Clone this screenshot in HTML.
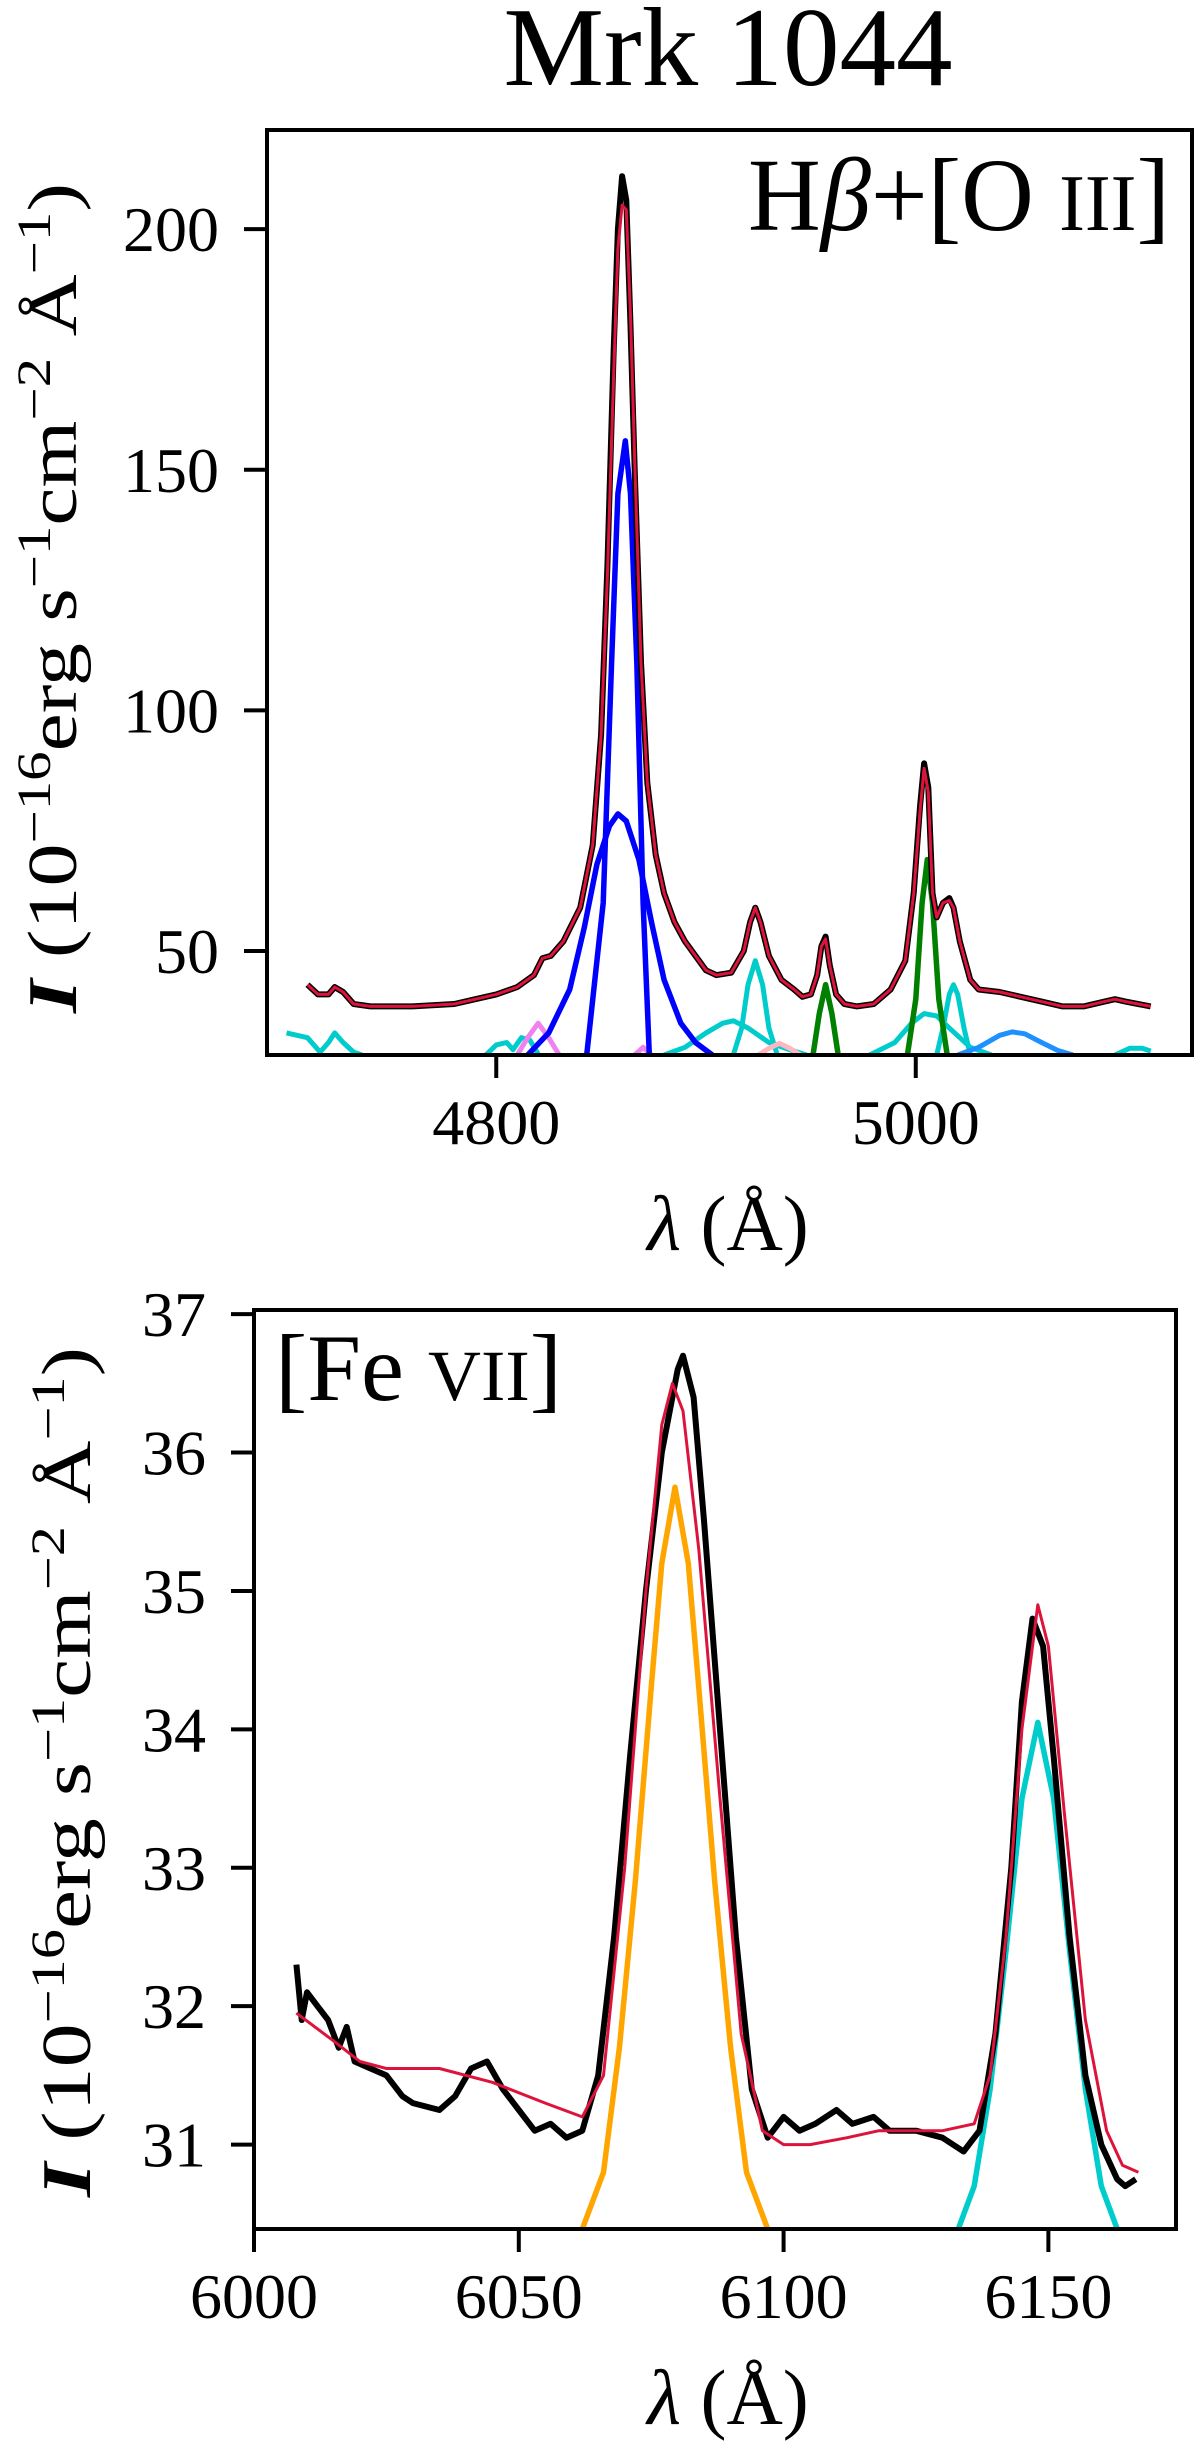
<!DOCTYPE html>
<html><head><meta charset="utf-8"><style>
html,body{margin:0;padding:0;background:#fff}
svg{display:block;font-family:"Liberation Serif",serif}
</style></head><body>
<svg id="fig" width="1200" height="2454" viewBox="0 0 1200 2454">
<text x="728" y="85" font-size="112" text-anchor="middle" textLength="449" lengthAdjust="spacingAndGlyphs">Mrk 1044</text>
<g id="top"></g>
<g id="bot"></g>
</svg>
<script>
// ---------- Top panel data ----------
const topXTicks=[4800,5000];
const topYTicks=[50,100,150,200];
const topObsX=[4710,4715,4720,4723,4727,4732,4740,4760,4780,4790,4800,4810,4818,4822,4826,4832,4840,4846,4850,4853,4856,4858,4860,4862,4864,4866,4869,4872,4876,4880,4885,4890,4895,4900,4905,4912,4918,4921,4923.5,4926,4930,4936,4942,4946,4950,4953,4955,4957,4959,4962,4966,4972,4980,4988,4995,4999,5002,5004,5006,5008,5010,5013,5016,5018,5021,5026,5030,5040,5050,5060,5070,5080,5090,5095,5100,5106,5112];
const topObsY=[43,41,41,42.5,41.5,39,38.5,38.5,39,40,41,42.5,45,48.5,49,52,59,72,95,130,175,200,211,206,180,150,110,85,70,62,56,52,49,46,45,45.5,50,56,59,56,49,44,42,40.5,41,45,51,53,47,41,39,38.5,39,42,48,62,80,89,84,62,57,60,61,59,52,44,42,41.5,40.5,39.5,38.5,38.5,39.5,40,39.5,39,38.5];
const topModY=[43,41,41,42.5,41.5,39,38.5,38.5,39,40,41,42.5,45,48.5,49,52,59,72,95,128,170,196,205,204,182,152,110,85,70,62,56,52,49,46,45,45.5,50,56,59,56,49,44,42,40.5,41,45,51,52.5,47,41,39,38.5,39,42,48,62,79,88,83,62,57,60,60.5,59,52,44,42,41.5,40.5,39.5,38.5,38.5,39.5,40,39.5,39,38.5];
const bnX=[4843,4851,4855,4858,4861.5,4864,4867,4870,4873];
const bnY=[28,60,110,145,156,145,110,60,28];
const bbX=[4815,4825,4835,4842,4848,4854,4858,4862,4868,4874,4880,4888,4895,4903];
const bbY=[28.4,33,42,55,68,76,78.5,77,69,56,44,35,31,28.4];
const cyanAX=[4700,4710,4716,4720,4723,4727,4732,4736];
const cyanAY=[33,32,29,31,33,31,29,28.4];
const cyanBX=[4795,4800,4805,4808,4812,4816,4820];
const cyanBY=[28.4,30.5,31,29.5,32,31.5,28.6];
const cyanCX=[4880,4890,4900,4908,4913,4920,4930,4940,4948];
const cyanCY=[28.4,30,33,35,35.5,34,31,29.5,28.4];
const cyanDX=[4913,4917,4920,4923.5,4927,4930,4934];
const cyanDY=[28.4,34,43,48,43,34,28.4];
const cyanEX=[4978,4990,4998,5004,5010,5016,5026,5036];
const cyanEY=[28.4,31,35,37,36.5,34,30,28.4];
const cyanFX=[5010,5013,5016,5018,5020,5023,5026];
const cyanFY=[28.4,34,41,43,41,34,28.4];
const cyanGX=[5095,5102,5108,5112];
const cyanGY=[28.4,29.8,29.8,29.2];
const greenAX=[4951,4954,4957,4960,4963];
const greenAY=[28.4,37,43,37,28.4];
const greenBX=[4996,5000,5003,5005.5,5008,5011,5015];
const greenBY=[28.4,40,60,69,60,40,28.4];
const violetAX=[4810,4815,4820,4825,4830];
const violetAY=[28.4,32,35,32,28.4];
const violetBX=[4866,4870,4874];
const violetBY=[28.4,30,28.4];
const pinkX=[4925,4930,4935,4940,4945];
const pinkY=[28.4,29.8,30.8,29.8,28.4];
const dblueX=[5020,5030,5040,5046,5052,5060,5068,5075];
const dblueY=[28.4,30,32.5,33.2,32.8,31,29.3,28.4];
// ---------- Bottom panel data ----------
const botXTicks=[6000,6050,6100,6150];
const botYTicks=[31,32,33,34,35,36,37];
const botObsX=[6008,6009,6010,6012,6014,6016,6017.5,6019,6022,6025,6028,6030,6035,6038,6041,6044,6047,6050,6053,6056,6059,6062,6065,6068,6071,6074,6077,6080,6081,6083,6085,6088,6091,6094,6097,6100,6103,6106,6110,6113,6117,6120,6125,6130,6134,6137,6140,6143,6145,6147,6149,6151,6154,6157,6160,6163,6164.5,6166.5];
const botObsY=[32.3,31.9,32.1,32.0,31.9,31.7,31.85,31.6,31.55,31.5,31.35,31.3,31.25,31.35,31.55,31.6,31.4,31.25,31.1,31.15,31.05,31.1,31.5,32.5,33.8,35.0,36.0,36.6,36.7,36.4,35.5,34.0,32.5,31.4,31.05,31.2,31.1,31.15,31.25,31.15,31.2,31.1,31.1,31.05,30.95,31.1,31.8,33.0,34.2,34.8,34.6,33.8,32.5,31.5,31.0,30.75,30.7,30.75];
const botModX=[6008,6015,6020,6025,6035,6045,6055,6062,6066,6070,6074,6077,6079,6081,6084,6088,6092,6096,6100,6105,6112,6118,6130,6136,6139,6142,6145,6148,6150,6153,6157,6161,6164,6167];
const botModY=[31.95,31.75,31.6,31.55,31.55,31.45,31.3,31.2,31.5,33,35.0,36.2,36.5,36.3,35.3,33.5,31.8,31.1,31.0,31.0,31.05,31.1,31.1,31.15,31.5,32.5,34.0,34.9,34.6,33.4,31.9,31.1,30.85,30.8];
const orangeX=[6062,6066,6069,6072,6075,6077,6079.5,6082,6084,6087,6090,6093,6097];
const orangeY=[30.39,30.8,31.7,32.9,34.3,35.2,35.75,35.2,34.3,32.9,31.7,30.8,30.39];
const cyanBotX=[6133,6136,6139,6142,6145,6148,6151,6154,6157,6160,6163];
const cyanBotY=[30.39,30.7,31.4,32.4,33.5,34.05,33.5,32.4,31.4,30.7,30.39];

const NS="http://www.w3.org/2000/svg";
function mk(parent,tag,attrs){const e=document.createElementNS(NS,tag);for(const k in attrs)e.setAttribute(k,attrs[k]);parent.appendChild(e);return e;}

function panel(g,cfg){
  const {L,R,T,B,x0,x1,y0,y1,id}=cfg;
  const sx=v=>L+(v-x0)/(x1-x0)*(R-L);
  const sy=v=>B-(v-y0)/(y1-y0)*(B-T);
  const defs=mk(g,'defs',{});
  const cp=mk(defs,'clipPath',{id:id+'clip'});
  mk(cp,'rect',{x:L,y:T,width:R-L,height:B-T});
  const plot=mk(g,'g',{'clip-path':'url(#'+id+'clip)'});
  
  
  function line(xs,ys,color,w,name){
    const pts=xs.map((x,i)=>sx(x).toFixed(1)+','+sy(ys[i]).toFixed(1)).join(' ');
    const p=mk(plot,'polyline',{points:pts,fill:'none',stroke:color,'stroke-width':w,'stroke-linejoin':'round'});
    
    
  }
  return {sx,sy,line,plot};
}

function axes(g,cfg,xt,yt,sx,sy){
  const {L,R,T,B}=cfg;
  const fr=mk(g,'rect',{x:L,y:T,width:R-L,height:B-T,fill:'none',stroke:'#000','stroke-width':4});
  
  
  xt.forEach(v=>{
    const x=sx(v);
    mk(g,'line',{x1:x,x2:x,y1:B,y2:B+23,stroke:'#000','stroke-width':4});
    const t=mk(g,'text',{x:x,y:B+89,'font-size':64,'text-anchor':'middle'});
    t.textContent=v;
    
    
  });
  yt.forEach(v=>{
    const y=sy(v);
    mk(g,'line',{x1:L-23,x2:L,y1:y,y2:y,stroke:'#000','stroke-width':4});
    const t=mk(g,'text',{x:L-48,y:y+22,'font-size':64,'text-anchor':'end'});
    t.textContent=v;
    
    
  });
}

function ylabel(g,bx,cy,len){
  const t=mk(g,'text',{transform:`translate(${bx},${cy}) rotate(-90)`,'font-size':70,'text-anchor':'middle',textLength:len,lengthAdjust:'spacingAndGlyphs'});
  
  
  t.innerHTML='<tspan font-style="italic" font-weight="bold">I</tspan> (10<tspan font-size="48" dy="-26">−16</tspan><tspan dy="26">erg s</tspan><tspan font-size="48" dy="-26">−1</tspan><tspan dy="26">cm</tspan><tspan font-size="48" dy="-26">−2</tspan><tspan dy="26"> Å</tspan><tspan font-size="48" dy="-26">−1</tspan><tspan dy="26">)</tspan>';
}
function xlabel(g,cx,cy){
  const t=mk(g,'text',{x:cx,y:cy,'font-size':78,'text-anchor':'middle'});
  
  
  t.innerHTML='<tspan font-style="italic">λ</tspan> (Å)';
}

// Top
const gt=document.getElementById('top');
const ct={L:267,R:1192,T:130,B:1055,x0:4690.7,x1:5131.7,y0:28.4,y1:220.6,id:'t'};
const P=panel(gt,ct);
P.line(cyanAX,cyanAY,'#00cccc',5,'cyan-component');
P.line(cyanBX,cyanBY,'#00cccc',5,'cyan-component');
P.line(cyanCX,cyanCY,'#00cccc',5,'cyan-component');
P.line(cyanDX,cyanDY,'#00cccc',5,'cyan-component');
P.line(cyanEX,cyanEY,'#00cccc',5,'cyan-component');
P.line(cyanFX,cyanFY,'#00cccc',5,'cyan-component');
P.line(cyanGX,cyanGY,'#00cccc',5,'cyan-component');
P.line(violetAX,violetAY,'#ee82ee',5,'violet-component');
P.line(violetBX,violetBY,'#ee82ee',5,'violet-component');
P.line(pinkX,pinkY,'#ffb6c1',5,'pink-component');
P.line(dblueX,dblueY,'#1e90ff',5,'dodgerblue-component');
P.line(bbX,bbY,'#0000ff',5.5,'hbeta-broad-component');
P.line(bnX,bnY,'#0000ff',5.5,'hbeta-narrow-component');
P.line(greenAX,greenAY,'#008000',5.5,'oiii-4959-component');
P.line(greenBX,greenBY,'#008000',5.5,'oiii-5007-component');
P.line(topObsX,topObsY,'#000',6,'observed-spectrum');
P.line(topObsX,topModY,'#dc143c',3,'model-fit');
axes(gt,ct,topXTicks,topYTicks,P.sx,P.sy);
ylabel(gt,76,598,830);
xlabel(gt,728,1250);
const lt=mk(gt,'text',{x:1170,y:230,'font-size':104,'text-anchor':'end',textLength:422,lengthAdjust:'spacingAndGlyphs'});


lt.innerHTML='H<tspan font-style="italic">β</tspan>+[O <tspan font-size="80">III</tspan>]';

// Bottom
const gb=document.getElementById('bot');
const cb={L:254,R:1176,T:1310,B:2229,x0:6000,x1:6174.1,y0:30.39,y1:37.03,id:'b'};
const Q=panel(gb,cb);
Q.line(orangeX,orangeY,'#ffa500',5.5,'fevii-6087-component');
Q.line(cyanBotX,cyanBotY,'#00cccc',5.5,'cyan-component');
Q.line(botObsX,botObsY,'#000',6,'observed-spectrum');
Q.line(botModX,botModY,'#dc143c',3,'model-fit');
axes(gb,cb,botXTicks,botYTicks,Q.sx,Q.sy);
ylabel(gb,90,1772,850);
xlabel(gb,728,2424);
const lb=mk(gb,'text',{x:275,y:1400,'font-size':95,textLength:287,lengthAdjust:'spacingAndGlyphs'});


lb.innerHTML='[Fe <tspan font-size="72">VII</tspan>]';
</script>
</body></html>
